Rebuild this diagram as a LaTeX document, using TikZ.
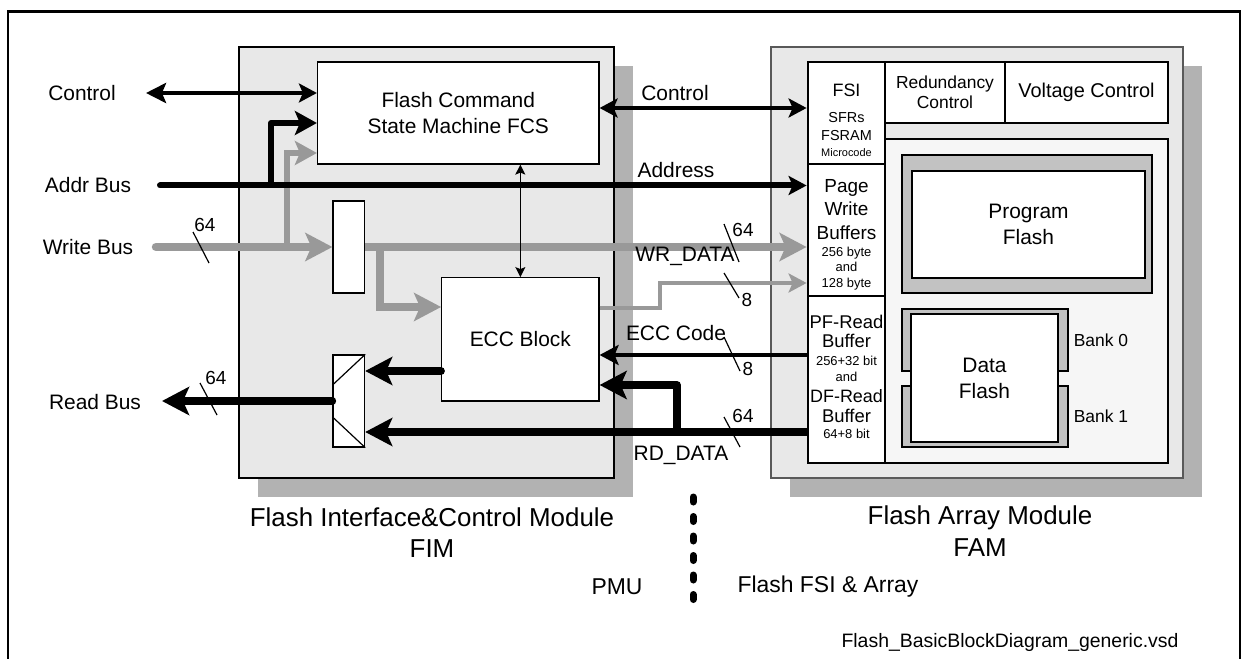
\documentclass[tikz,border=0pt]{standalone}
\usepackage{fontspec}
\setmainfont{Liberation Sans}
\usepackage{tikz}
\usetikzlibrary{positioning, arrows.meta, calc, shadows}
\definecolor{bus-gray}{gray}{0.6}
\definecolor{shade-gray}{gray}{0.7}
\definecolor{module-fill}{gray}{0.91}
\definecolor{core-fill}{gray}{0.965}
\definecolor{bank-gray}{gray}{0.76}

\tikzset{
  sz/.style 2 args={minimum width=#1bp, minimum height=#2bp},
  txt/.style 2 args={font=\fontsize{#1}{#2}\selectfont, inner sep=0pt, align=center},
  shade/.style={drop shadow={shadow xshift=19bp, shadow yshift=-19bp, fill=shade-gray, opacity=1}},
  module/.style={draw, line width=2.5bp, fill=module-fill, inner sep=0pt, shade},
  fammod/.style={draw=black!65, line width=1.5bp, fill=module-fill, inner sep=0pt, shade},
  blk/.style={draw, line width=1.2bp, fill=white, inner sep=0pt, align=center, font=\fontsize{21}{26}\selectfont},
  cell/.style={draw, line width=2.8bp, fill=white, inner sep=0pt, align=center},
  bank/.style={draw, line width=1.2bp, fill=bank-gray, inner sep=0pt},
  bustip/.tip={Stealth[length=18bp, width=19bp, inset=4bp]},
  widetip/.tip={Stealth[length=27bp, width=28bp, inset=6bp]},
  midtip/.tip={Stealth[length=22bp, width=24bp, inset=5bp]},
  smalltip/.tip={Stealth[length=10bp, width=10bp, inset=2bp]},
  gbus/.style={draw=bus-gray, line width=8.5bp},
  bbus/.style={draw=black, line width=6bp, line join=round},
  rbus/.style={draw=black, line width=7.5bp, line join=round},
  tick/.style={line width=1.2bp}
}

\begin{document}
\begin{tikzpicture}[x=1bp, y=-1bp]
\useasboundingbox (0,0) rectangle (1243,659);
\draw[line width=2.5bp] (8,662) |- (1240,11.5) -- (1240,662);

% modules
\node[module, sz={375}{431}] (fim) at (426.5,262.5) {};
\node[fammod, sz={412}{431}] (fam) at (977,262.5) {};

% FIM blocks
\node[blk, sz={281.5}{102}] (fcs) at (458.25,113) {Flash Command\\State Machine FCS};
\node[blk, sz={31.6}{92}] (reg) at (348.8,247) {};
\node[blk, sz={157.3}{123.3}] (ecc) at (520.35,339.35) {ECC Block};
\node[blk, sz={31.6}{92}] (mux) at (348.8,401) {};
\draw[line width=1.2bp] ($(mux.north west)!0.33!(mux.south west)$) -- (mux.north east)
  ($(mux.north west)!0.67!(mux.south west)$) -- (mux.south east);

% FAM blocks
\node[cell, sz={283}{324}, fill=core-fill] (core) at (1026.5,301) {};
\node[cell, sz={77}{102}] (fsi) at (846.5,113) {};
\node[cell, sz={120}{61}, font=\fontsize{17.5}{20}\selectfont] (red) at (945,92.5) {Redundancy\\Control};
\node[cell, sz={163}{61}, font=\fontsize{20}{24}\selectfont] (volt) at (1086.5,92.5) {Voltage Control};
\node[cell, sz={77}{132}] (pwb) at (846.5,230) {};
\node[cell, sz={77}{167}] (rdb) at (846.5,379.5) {};

\node[bank, sz={250}{138}] (pfbank) at (1027,224) {};
\node[blk, sz={233}{107}] (pflash) at (1028.5,224.5) {Program\\Flash};
\node[bank, sz={166}{62}] (bank0) at (985,340) {};
\node[bank, sz={166}{61}] (bank1) at (985,416.5) {};
\node[blk, sz={147}{128}] (dflash) at (984.5,378) {Data\\Flash};
\node[txt={17.5}{20}, anchor=west, right=5bp of bank0] (b0) {Bank 0};
\node[txt={17.5}{20}, anchor=west, right=5bp of bank1] (b1) {Bank 1};

% cell texts
\node[txt={18}{22}] (fsi-t) at (846.5,90) {FSI};
\node[txt={14.5}{18}] (fsi-sfr) at (846.5,118) {SFRs};
\node[txt={14.5}{18}] (fsi-ram) at (846.5,136) {FSRAM};
\node[txt={11}{14}] (fsi-mc) at (846.5,153) {Microcode};
\node[txt={19}{23.5}] (pwb-t) at (846.5,209.5) {Page\\Write\\Buffers};
\node[txt={13}{15.5}] (pwb-s) at (846.5,268.5) {256 byte\\and\\128 byte};
\foreach \t/\y/\s in {PF-Read/322/18.5, Buffer/341/18.5, 256+32 bit/361/13, and/377/13,
                      DF-Read/396/18, Buffer/416/18.5, 64+8 bit/434/13}
  \node[txt={\s}{\s}] (rdb-\y) at (846.5,\y) {\t};

% bus levels
\coordinate (ctl-end) at (146,93);
\coordinate (addr-in) at (160,185.5);
\coordinate (addr-tap) at (271,185.5);
\coordinate (fcs-a) at (0,123);
\coordinate (wr-in) at (156,247);
\coordinate (wr-tap) at (287,247);
\coordinate (fcs-w) at (0,153);
\coordinate (ecc-tap) at (380,247);
\coordinate (ecc-w) at (0,307);
\coordinate (gout) at (0,308);
\coordinate (gout-bend) at (660,0);
\coordinate (pwb-8) at (0,283);
\coordinate (ctl-mid) at (0,108);
\coordinate (ecc-code) at (0,355);
\coordinate (rd) at (0,432);
\coordinate (rd-tap) at (677,432);
\coordinate (ecc-rd) at (0,385);
\coordinate (ecc-out) at (0,371);
\coordinate (rd-end) at (162,401);

% write path (gray)
\draw[gbus, line cap=round, -widetip] (wr-in) -- (reg.west);
\draw[gbus, line width=6bp, -midtip] (wr-tap) |- (fcs.west |- fcs-w);
\draw[gbus, -widetip] (reg.east) -- (reg.east -| pwb.west);
\draw[gbus, -widetip] (ecc-tap) |- (ecc.west |- ecc-w);
\draw[gbus, line width=4bp, -{Stealth[length=18bp, width=19bp, inset=4bp]}]
  (ecc.east |- gout) -| (gout-bend |- pwb-8) -- (pwb.west |- pwb-8);

% control and address (black)
\draw[line width=4bp, {Stealth[length=20bp, width=20bp, inset=4bp]}-bustip] (ctl-end) -- (ctl-end -| fcs.west);
\draw[bbus, line cap=round, -bustip] (addr-in) -- (addr-in -| pwb.west);
\draw[bbus, -midtip] (addr-tap) |- (fcs.west |- fcs-a);
\draw[line width=1.3bp, smalltip-smalltip] (ecc.north |- fcs.south) -- (ecc.north);
\draw[line width=4.5bp, bustip-bustip] (fcs.east |- ctl-mid) -- (fsi.west |- ctl-mid);

% read path (black)
\draw[line width=3.5bp, -{Stealth[length=19bp, width=20bp, inset=4bp]}] (rdb.west |- ecc-code) -- (ecc.east |- ecc-code);
\draw[rbus, -widetip] (rdb.west |- rd) -- (mux.east |- rd);
\draw[rbus, -widetip] (rd-tap) |- (ecc.east |- ecc-rd);
\draw[rbus, line cap=round, -widetip] (ecc.west |- ecc-out) -- (mux.east |- ecc-out);
\draw[rbus, line cap=round, -widetip] (mux.west) -- (rd-end);

% bus width ticks
\draw[tick] (193,232) -- (209,263)  (200,383) -- (217,415)
  (724,224) -- (739,262)  (724,273) -- (739,298)
  (724,337) -- (740,371)  (724,417) -- (740,447);

% labels
\node[txt={21}{26}] (l-ctl) at (82,93) {Control};
\node[txt={21}{26}] (l-addr) at (88,185) {Addr Bus};
\node[txt={21}{26}] (l-wr) at (88,247) {Write Bus};
\node[txt={21}{26}] (l-rd) at (95,402) {Read Bus};
\node[txt={19}{22}] (n-wr) at (205,225) {64};
\node[txt={19}{22}] (n-rd) at (216,378) {64};
\node[txt={21}{26}] (m-ctl) at (675,93) {Control};
\node[txt={21}{26}] (m-addr) at (676,170) {Address};
\node[txt={19}{22}] (n-wd) at (743,230) {64};
\node[txt={21}{26}] (m-wd) at (685,256) {WR\_DATA};
\node[txt={19}{22}] (n-w8) at (747,300) {8};
\node[txt={21}{26}] (m-ecc) at (676,333) {ECC Code};
\node[txt={19}{22}] (n-e8) at (748,369) {8};
\node[txt={19}{22}] (n-rdd) at (743,416) {64};
\node[txt={21}{26}] (m-rd) at (681,455) {RD\_DATA};

\node[txt={26}{31}] (fim-t) at (432,532.5) {Flash Interface\&Control Module\\FIM};
\node[txt={26}{32}] (fam-t) at (980,531) {Flash Array Module\\FAM};
\node[txt={23}{26}] (pmu) at (617,587) {PMU};
\node[txt={23}{26}] (fsi-arr) at (828,587) {Flash FSI \& Array};
\draw[line width=7bp, line cap=round, dash pattern=on 5bp off 14.5bp] (693,497) -- (693,600);
\node[txt={19.5}{22}] (file) at (1010,642) {Flash\_BasicBlockDiagram\_generic.vsd};
\end{tikzpicture}
\end{document}
